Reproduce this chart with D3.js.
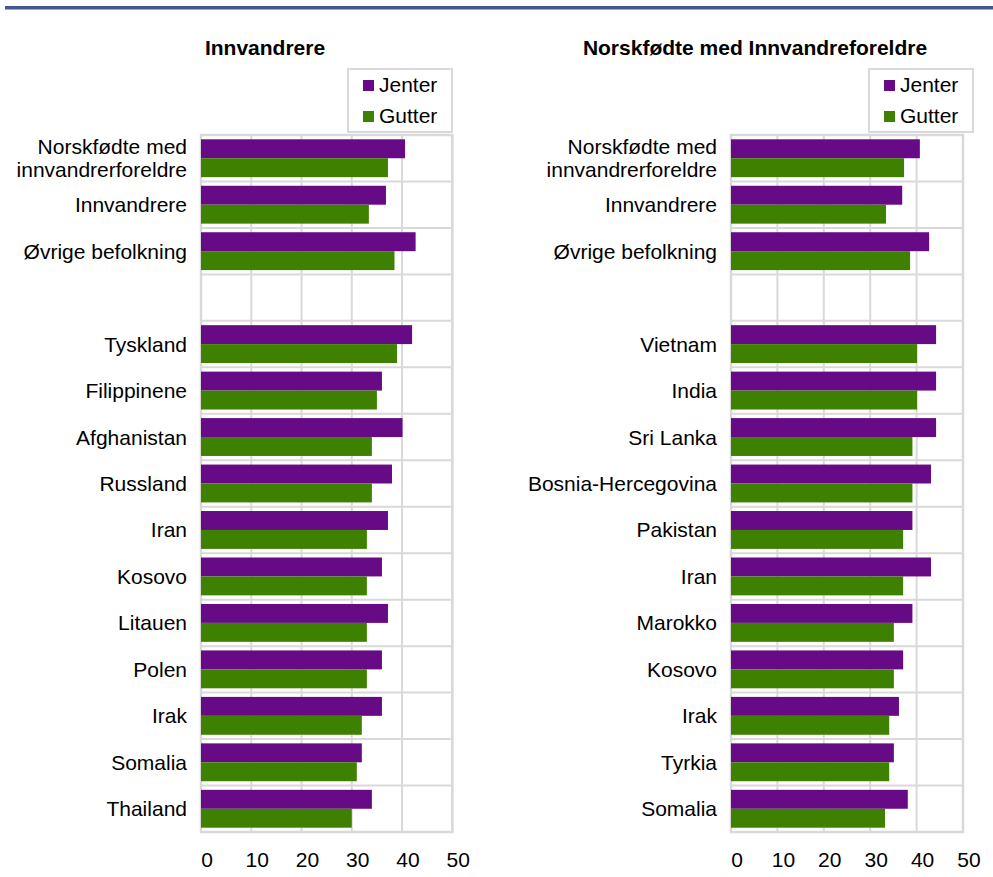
<!DOCTYPE html>
<html>
<head>
<meta charset="utf-8">
<script src="https://cdn.jsdelivr.net/npm/d3@7"></script>
<style>
  body { margin: 0; background: #fff; }
  text { font-family: "Liberation Sans", Arial, sans-serif; fill: #000; }
</style>
</head>
<body>
<div id="chart"></div>
<script>
var width = 993,
  height = 877;

var series = ["Jenter", "Gutter"];
var colors = ["#660a86", "#3e8000"];
var ticks = [0, 10, 20, 30, 40, 50];

var leftTitle = "Innvandrere";
var leftCategories = ["Norskfødte med innvandrerforeldre", "Innvandrere", "Øvrige befolkning",
  "Tyskland", "Filippinene", "Afghanistan", "Russland", "Iran", "Kosovo", "Litauen",
  "Polen", "Irak", "Somalia", "Thailand"];
var leftJenter = [40.6, 36.8, 42.7, 42.0, 36.0, 40.1, 38.0, 37.2, 36.0, 37.2, 36.0, 36.0, 32.0, 34.0];
var leftGutter = [37.2, 33.4, 38.5, 39.0, 35.0, 34.0, 34.0, 33.0, 33.0, 33.0, 33.0, 32.0, 31.0, 30.0];

var rightTitle = "Norskfødte med Innvandreforeldre";
var rightCategories = ["Norskfødte med innvandrerforeldre", "Innvandrere", "Øvrige befolkning",
  "Vietnam", "India", "Sri Lanka", "Bosnia-Hercegovina", "Pakistan", "Iran", "Marokko",
  "Kosovo", "Irak", "Tyrkia", "Somalia"];
var rightJenter = [40.7, 36.9, 42.7, 44.2, 44.2, 44.2, 43.1, 39.1, 43.1, 39.1, 37.1, 36.2, 35.1, 38.1];
var rightGutter = [37.3, 33.4, 38.6, 40.1, 40.1, 39.1, 39.1, 37.1, 37.1, 35.1, 35.1, 34.1, 34.1, 33.2];

// labels that wrap onto two lines
var wrapped = {"Norskfødte med innvandrerforeldre": ["Norskfødte med", "innvandrerforeldre"]};

var svg = d3.select("#chart").append("svg")
  .attr("width", width)
  .attr("height", height);

// blue rule at the top of the page
svg.append("rect")
  .attr("x", 5).attr("y", 6)
  .attr("width", width - 5).attr("height", 3.5)
  .attr("fill", "#41598b");

function renderPanel(opts) {
  var rows = opts.categories.slice(0, 3).concat(["__gap__"], opts.categories.slice(3));

  var x = d3.scaleLinear().domain([0, 50]).range([opts.left, opts.right]);
  var y = d3.scaleBand().domain(rows).range([135, 832]);
  var sub = d3.scaleBand().domain(series).range([4.3, y.bandwidth() - 4.3]);

  var g = svg.append("g");

  // title
  g.append("text")
    .attr("x", opts.titleX)
    .attr("y", 55)
    .attr("text-anchor", "middle")
    .style("font-size", "21px")
    .style("font-weight", "bold")
    .text(opts.title);

  // grid
  g.selectAll(".vgrid")
    .data(ticks)
    .enter().append("line")
    .attr("x1", function(d) { return x(d); })
    .attr("x2", function(d) { return x(d); })
    .attr("y1", 135).attr("y2", 832)
    .attr("stroke", "#d9d9d9")
    .attr("stroke-width", 2);

  g.selectAll(".hgrid")
    .data(rows.concat(["__end__"]))
    .enter().append("line")
    .attr("x1", opts.left).attr("x2", opts.right)
    .attr("y1", function(d, i) { return 135 + i * y.step(); })
    .attr("y2", function(d, i) { return 135 + i * y.step(); })
    .attr("stroke", "#d9d9d9")
    .attr("stroke-width", 2);

  g.append("rect")
    .attr("x", opts.left).attr("y", 135)
    .attr("width", opts.right - opts.left).attr("height", 697)
    .attr("fill", "none")
    .attr("stroke", "#d9d9d9")
    .attr("stroke-width", 2.5);

  // bars
  var data = opts.categories.map(function(c, i) {
    return {category: c, values: [opts.jenter[i], opts.gutter[i]]};
  });

  var groups = g.selectAll(".group")
    .data(data)
    .enter().append("g")
    .attr("transform", function(d) { return "translate(0," + y(d.category) + ")"; });

  groups.selectAll("rect")
    .data(function(d) { return d.values.map(function(v, k) { return {s: series[k], v: v, k: k}; }); })
    .enter().append("rect")
    .attr("x", x(0))
    .attr("y", function(d) { return sub(d.s); })
    .attr("width", function(d) { return x(d.v) - x(0); })
    .attr("height", sub.bandwidth())
    .attr("fill", function(d) { return colors[d.k]; });

  // category labels
  groups.each(function(d) {
    var lines = wrapped[d.category] || [d.category];
    var mid = y.bandwidth() / 2 + 7.5;
    var t = d3.select(this).append("text")
      .attr("text-anchor", "end")
      .style("font-size", "21px");
    lines.forEach(function(line, i) {
      t.append("tspan")
        .attr("x", opts.left - 14)
        .attr("y", mid + (i - (lines.length - 1) / 2) * 23)
        .text(line);
    });
  });

  // x axis labels
  g.selectAll(".tick")
    .data(ticks)
    .enter().append("text")
    .attr("x", function(d) { return x(d) + 6; })
    .attr("y", 867)
    .attr("text-anchor", "middle")
    .style("font-size", "21px")
    .text(function(d) { return d; });

  // legend
  var lg = g.append("g").attr("transform", "translate(" + opts.legendX + ",69)");
  lg.append("rect")
    .attr("width", 104).attr("height", 63)
    .attr("fill", "#fff")
    .attr("stroke", "#d9d9d9")
    .attr("stroke-width", 2);
  series.forEach(function(s, i) {
    lg.append("rect")
      .attr("x", 15).attr("y", 11 + i * 31)
      .attr("width", 11).attr("height", 11)
      .attr("fill", colors[i]);
    lg.append("text")
      .attr("x", 31).attr("y", 23 + i * 31)
      .style("font-size", "21px")
      .text(s);
  });
}

renderPanel({
  title: leftTitle, titleX: 265,
  categories: leftCategories, jenter: leftJenter, gutter: leftGutter,
  left: 201, right: 452.3, legendX: 348
});

renderPanel({
  title: rightTitle, titleX: 755,
  categories: rightCategories, jenter: rightJenter, gutter: rightGutter,
  left: 731, right: 963, legendX: 869
});
</script>
</body>
</html>
